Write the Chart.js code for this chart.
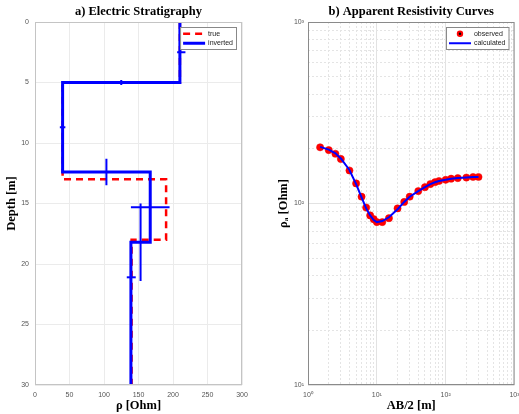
<!DOCTYPE html>
<html>
<head>
<meta charset="utf-8">
<script src="https://cdn.jsdelivr.net/npm/chart.js@4.4.0/dist/chart.umd.min.js"></script>
<style>
  html, body { margin: 0; padding: 0; background: #fff; }
  #wrap { position: relative; width: 519px; height: 414px; }
  #left { position: absolute; left: 0; top: 0; }
  #right { position: absolute; left: 259px; top: 0; }
</style>
</head>
<body>
<div id="wrap">
  <canvas id="left" width="259" height="414"></canvas>
  <canvas id="right" width="260" height="414"></canvas>
</div>
<script>
// a) layered earth model: resistivity of each layer, depth of the boundaries
var trueRho = [210, 40, 190, 140];
var trueDepth = [0, 5, 13, 18, 30];
var invRho = [210, 40, 167, 139];
var invDepth = [0, 5, 12.4, 18.2, 30];
// error bars of the inverted model
var rhoErrDepth = [2.5, 8.7, 15.3, 21.1];
var rhoErrCenter = [212, 40, 167, 139.5];
var rhoErr = [6, 4, 28, 6.5];
var depthErrCenter = [5, 12.4, 18.2];
var depthErrRho = [125, 103.5, 153];
var depthErr = [0.2, 1.1, 3.2];

// b) sounding curve
var ab2 = [1.5, 2, 2.5, 3, 4, 5, 6, 7, 8, 9, 10, 12, 15, 20, 25, 30, 40, 50, 60, 70, 80, 100, 120, 150, 200, 250, 300];
var rhoObs = [204, 197, 188, 176, 152, 129, 109, 95, 86, 82, 79, 79, 83, 94, 102, 109, 117, 123, 128, 131, 133, 135, 137, 138, 139, 140, 140];
var rhoCalc = [205, 198, 189, 177, 153, 128, 108, 94, 86, 81, 79, 80, 84, 93, 102, 109, 117, 123, 128, 131, 133, 135, 137, 138, 139, 140, 140];

var TICK_FONT = { family: "Liberation Sans", size: 7 };
var TICK_COLOR = '#555';
var SERIF_BOLD = { family: "Liberation Serif", size: 12.5, weight: 'bold' };

function stepProfile(rho, depth) {
    var pts = [];
    for (var i = 0; i < rho.length; i++) {
        pts.push({ x: rho[i], y: depth[i] });
        pts.push({ x: rho[i], y: depth[i + 1] });
    }
    return pts;
}

function errBar(points) {
    return {
        data: points,
        showLine: true,
        borderColor: '#0000ff',
        borderWidth: 2,
        pointRadius: 0,
        order: 0
    };
}

var framePlugin = {
    id: 'frame',
    afterDraw: function (chart, args, opts) {
        var a = chart.chartArea, c = chart.ctx;
        c.save();
        c.strokeStyle = opts.color;
        c.lineWidth = 1;
        c.strokeRect(a.left + 0.5, a.top + 0.5, a.right - a.left - 1, a.bottom - a.top - 1);
        c.restore();
    }
};

var boxLegend = {
    id: 'boxLegend',
    afterDraw: function (chart, args, opts) {
        var items = chart.data.datasets.filter(function (d) { return d.inLegend; });
        var c = chart.ctx, a = chart.chartArea;
        c.save();
        c.font = '7px "Liberation Sans"';
        var textW = Math.max.apply(null, items.map(function (d) { return c.measureText(d.label).width; }));
        var sample = 22, rowH = 9.5;
        var w = 3 + sample + 3 + textW + 3, h = rowH * items.length + 3;
        var x = a.right - w - 6, y = a.top + 5;
        c.fillStyle = '#fff';
        c.fillRect(x, y, w, h);
        c.strokeStyle = '#888';
        c.lineWidth = 1;
        c.strokeRect(x + 0.5, y + 0.5, w, h);
        items.forEach(function (d, i) {
            var cy = y + 2 + rowH * i + rowH / 2;
            if (d.showLine) {
                c.strokeStyle = d.borderColor;
                c.lineWidth = d.borderWidth;
                c.setLineDash(d.borderDash || []);
                c.beginPath();
                c.moveTo(x + 3, cy);
                c.lineTo(x + 3 + sample, cy);
                c.stroke();
                c.setLineDash([]);
            } else {
                c.fillStyle = d.backgroundColor;
                c.beginPath();
                c.arc(x + 3 + sample / 2, cy, 3.2, 0, Math.PI * 2);
                c.fill();
                c.fillStyle = '#000';
                c.beginPath();
                c.arc(x + 3 + sample / 2, cy, 1.2, 0, Math.PI * 2);
                c.fill();
            }
            c.fillStyle = '#222';
            c.textBaseline = 'middle';
            c.fillText(d.label, x + 6 + sample, cy);
        });
        c.restore();
    }
};

// ---------- a) Electric Stratigraphy ----------
var leftSets = [
    {
        label: 'true', inLegend: true,
        data: stepProfile(trueRho, trueDepth),
        showLine: true,
        borderColor: '#ff0000',
        borderWidth: 2.5,
        borderDash: [7, 5],
        pointRadius: 0,
        order: 3
    },
    {
        label: 'inverted', inLegend: true,
        data: stepProfile(invRho, invDepth),
        showLine: true,
        borderColor: '#0000ff',
        borderWidth: 3,
        pointRadius: 0,
        order: 1
    }
];
rhoErr.forEach(function (e, i) {
    leftSets.push(errBar([
        { x: rhoErrCenter[i] - e, y: rhoErrDepth[i] },
        { x: rhoErrCenter[i] + e, y: rhoErrDepth[i] }
    ]));
});
depthErr.forEach(function (e, i) {
    leftSets.push(errBar([
        { x: depthErrRho[i], y: depthErrCenter[i] - e },
        { x: depthErrRho[i], y: depthErrCenter[i] + e }
    ]));
});

new Chart(document.getElementById('left').getContext('2d'), {
    type: 'scatter',
    data: { datasets: leftSets },
    plugins: [framePlugin, boxLegend],
    options: {
        responsive: false,
        animation: false,
        layout: { padding: { left: 2, right: 17, top: 0, bottom: 1 } },
        plugins: {
            legend: { display: false },
            tooltip: { enabled: false },
            frame: { color: '#c4c4c4' },
            title: {
                display: true,
                fullSize: false,
                text: 'a) Electric Stratigraphy',
                color: '#000',
                font: SERIF_BOLD,
                padding: { top: 4, bottom: 3 }
            }
        },
        scales: {
            x: {
                type: 'linear',
                min: 0, max: 300,
                border: { display: false },
                grid: { color: '#ebebeb', drawTicks: false },
                ticks: { stepSize: 50, font: TICK_FONT, color: TICK_COLOR, padding: 6, maxRotation: 0 },
                title: { display: true, text: 'ρ [Ohm]', color: '#000', font: SERIF_BOLD, padding: 0 },
                afterFit: function (s) { s.height = 28; s.paddingLeft = 0; s.paddingRight = 0; }
            },
            y: {
                type: 'linear',
                reverse: true,
                min: 0, max: 30,
                border: { display: false },
                grid: { color: '#ebebeb', drawTicks: false },
                ticks: { stepSize: 5, font: TICK_FONT, color: TICK_COLOR, padding: 6 },
                title: { display: true, text: 'Depth [m]', color: '#000', font: SERIF_BOLD, padding: { top: 2 } },
                afterFit: function (s) { s.width = 33; s.paddingTop = 0; s.paddingBottom = 0; }
            }
        }
    }
});

// ---------- b) Apparent Resistivity Curves ----------
var SUP = { '0': '⁰', '1': '¹', '2': '²', '3': '³' };
function isPow10(v) {
    var p = Math.log10(v);
    return Math.abs(p - Math.round(p)) < 1e-9;
}
function decadeLabel(v) {
    return isPow10(v) ? '10' + SUP[String(Math.round(Math.log10(v)))] : '';
}
function decadeTicks(scale) {
    var list = [];
    for (var e = Math.round(Math.log10(scale.min)); e < Math.round(Math.log10(scale.max)); e++) {
        for (var m = 1; m < 10; m++) list.push({ value: m * Math.pow(10, e) });
    }
    list.push({ value: scale.max });
    scale.ticks = list;
}
function gridDash(ctx) { return ctx.tick && isPow10(ctx.tick.value) ? [] : [2, 2]; }
function gridColor(ctx) { return ctx.tick && isPow10(ctx.tick.value) ? '#e2e2e2' : '#e4e4e4'; }

new Chart(document.getElementById('right').getContext('2d'), {
    type: 'scatter',
    data: {
        datasets: [
            {
                label: 'observed', inLegend: true,
                data: ab2.map(function (x, i) { return { x: x, y: rhoObs[i] }; }),
                backgroundColor: '#ff0000',
                borderColor: '#ee0000',
                borderWidth: 0.5,
                pointRadius: 3.6,
                order: 2
            },
            {
                label: 'calculated', inLegend: true,
                data: ab2.map(function (x, i) { return { x: x, y: rhoCalc[i] }; }),
                showLine: true,
                borderColor: '#0000ff',
                borderWidth: 2,
                pointRadius: 0,
                order: 1
            }
        ]
    },
    plugins: [framePlugin, boxLegend],
    options: {
        responsive: false,
        animation: false,
        layout: { padding: { left: 17, right: 4, top: 0, bottom: 1 } },
        plugins: {
            legend: { display: false },
            tooltip: { enabled: false },
            frame: { color: '#8a8a8a' },
            title: {
                display: true,
                fullSize: false,
                text: 'b) Apparent Resistivity Curves',
                color: '#000',
                font: SERIF_BOLD,
                padding: { top: 4, bottom: 3 }
            }
        },
        scales: {
            x: {
                type: 'logarithmic',
                min: 1, max: 1000,
                afterBuildTicks: decadeTicks,
                border: { display: false, dash: gridDash },
                grid: { drawTicks: false, color: gridColor },
                ticks: {
                    autoSkip: false, maxRotation: 0,
                    font: TICK_FONT, color: TICK_COLOR, padding: 6,
                    callback: function (v) { return decadeLabel(v); }
                },
                title: { display: true, text: 'AB/2 [m]', color: '#000', font: SERIF_BOLD, padding: 0 },
                afterFit: function (s) { s.height = 28; s.paddingLeft = 0; s.paddingRight = 0; }
            },
            y: {
                type: 'logarithmic',
                min: 10, max: 1000,
                afterBuildTicks: decadeTicks,
                border: { display: false, dash: gridDash },
                grid: { drawTicks: false, color: gridColor },
                ticks: {
                    autoSkip: false,
                    font: TICK_FONT, color: TICK_COLOR, padding: 4,
                    callback: function (v) { return decadeLabel(v); }
                },
                title: { display: true, text: 'ρₐ [Ohm]', color: '#000', font: SERIF_BOLD, padding: { top: 0 } },
                afterFit: function (s) { s.width = 32; s.paddingTop = 0; s.paddingBottom = 0; }
            }
        }
    }
});
</script>
</body>
</html>
